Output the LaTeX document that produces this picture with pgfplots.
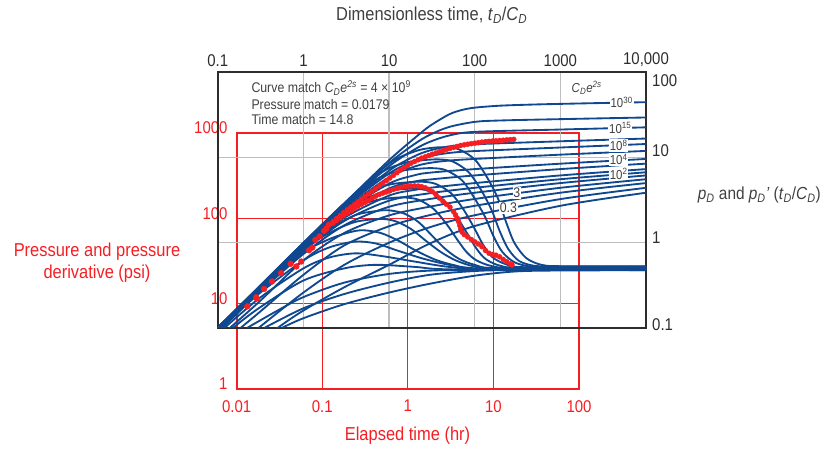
\documentclass[border=0pt]{standalone}
\usepackage{pgfplots}
\pgfplotsset{compat=1.18}
\usepackage{fontspec}
\setmainfont{Liberation Sans}[FakeStretch=0.88]
\definecolor{cblue}{RGB}{16,72,143}
\definecolor{cred}{RGB}{245,30,35}
\definecolor{cgrid}{RGB}{190,190,190}
\definecolor{ctext}{RGB}{64,64,64}
\definecolor{cframe}{RGB}{45,45,45}
\newcommand{\tickfont}{\fontsize{17}{20}\selectfont}
\newcommand{\labfont}{\fontsize{18.7}{21}\selectfont}
\newcommand{\rlabfont}{\fontsize{17.5}{20}\selectfont}
\newcommand{\smallfont}{\fontsize{14}{16}\selectfont}
\newcommand{\cfont}{\fontsize{13}{15}\selectfont}
\newcommand{\sub}[1]{\textsubscript{\itshape #1}}
\tikzset{bl/.style={cblue, solid, line width=1.85pt, smooth, mark=none}}
\tikzset{rd/.style={only marks, mark=*, mark size=2.5pt, cred, mark options={draw=none, fill=cred}}}
\begin{document}
\begin{tikzpicture}[x=1pt,y=1pt]
\useasboundingbox (0,0) rectangle (823,448);
% ---------------- red (field data) axis: grid and frame
\begin{axis}[at={(236.7pt,59pt)}, anchor=south west, scale only axis,
  width=342.3pt, height=256pt, xmode=log, ymode=log,
  xmin=0.01, xmax=100, ymin=1, ymax=1000,
  xtick={0.01,0.1,1,10,100}, xticklabels={0.01,0.1,1,10,100},
  ytick={1,10,100,1000}, yticklabels={1,10,100,1000},
  xminorticks=false, yminorticks=false,
  grid=major, major grid style={cred, line width=0.9pt},
  axis line style={cred, line width=1.8pt},
  major tick length=0pt,
  /pgf/number format/assume math mode=true,
  ticklabel style={text=cred, font=\tickfont, inner sep=0pt},
  xticklabel style={anchor=north, yshift=-11pt},
  yticklabel style={anchor=east, xshift=-9pt, yshift=5pt}]
\end{axis}
% ---------------- dimensionless type-curve axis
\begin{axis}[at={(217.8pt,120.1pt)}, anchor=south west, scale only axis,
  width=428.2pt, height=255.6pt, xmode=log, ymode=log,
  xmin=0.1, xmax=10000, ymin=0.1, ymax=100,
  xtick={0.1,1,10,100,1000,10000}, xticklabels={0.1,1,10,100,1000,{10,000}},
  xticklabel pos=right,
  ytick={0.1,1,10,100}, yticklabels={,,,},
  xminorticks=false, yminorticks=false,
  grid=major, major grid style={cgrid, line width=1.2pt},
  axis line style={cframe, line width=2.3pt},
  major tick length=0pt,
  /pgf/number format/assume math mode=true,
  ticklabel style={text=cframe, font=\tickfont, inner sep=0pt},
  xticklabel style={anchor=south, yshift=5.5pt}]
% pressure curves pD
\addplot[bl] coordinates {(0.1,0.1)(0.3,0.3)(1,0.99)(3,2.9)(10,9.3)(20,17)(30,23.5)(50,32)(70,36)(100,38.5)(200,40.6)(500,41.9)(1000,42.6)(3000,43.6)(10000,44.6)};
\addplot[bl] coordinates {(0.1,0.1)(1,0.98)(3,2.85)(10,8.6)(20,14.5)(30,18.5)(50,22.8)(100,26.2)(200,27.2)(1000,28.2)(10000,29.5)};
\addplot[bl] coordinates {(0.1,0.1)(1,0.97)(3,2.77)(10,7.9)(20,12.5)(30,15.3)(50,18.1)(100,20.0)(1000,21.3)(10000,22.6)};
\addplot[bl] coordinates {(0.1,0.1)(0.3,0.296)(1,0.96)(3,2.67)(10,7.0)(20,10.4)(30,12.1)(50,13.5)(100,14.3)(1000,15.5)(10000,16.7)};
\addplot[bl] coordinates {(0.1,0.1)(0.3,0.296)(1,0.95)(3,2.6)(10,6.5)(20,9.2)(30,10.4)(50,11.3)(100,11.9)(1000,13.1)(10000,14.4)};
\addplot[bl] coordinates {(0.1,0.1)(0.3,0.293)(1,0.935)(3,2.49)(10,5.87)(20,7.85)(30,8.65)(50,9.2)(100,9.62)(1000,10.8)(10000,11.95)};
\addplot[bl] coordinates {(0.1,0.099)(0.3,0.29)(1,0.907)(3,2.32)(10,4.94)(20,6.2)(30,6.64)(100,7.31)(1000,8.46)(10000,9.62)};
\addplot[bl] coordinates {(0.1,0.098)(0.3,0.287)(1,0.88)(3,2.17)(10,4.33)(20,5.23)(30,5.52)(100,6.16)(1000,7.31)(10000,8.47)};
\addplot[bl] coordinates {(0.1,0.097)(0.3,0.28)(1,0.837)(3,1.96)(10,3.57)(20,4.17)(30,4.41)(100,5.01)(1000,6.16)(10000,7.31)};
\addplot[bl] coordinates {(0.1,0.095)(0.3,0.272)(1,0.796)(3,1.8)(10,3.11)(30,3.81)(100,4.41)(1000,5.56)(10000,6.71)};
\addplot[bl] coordinates {(0.1,0.088)(0.3,0.257)(1,0.737)(3,1.6)(10,2.64)(30,3.26)(100,3.86)(1000,5.01)(10000,6.16)};
\addplot[bl] coordinates {(0.1,0.075)(0.3,0.2)(1,0.62)(3,1.3)(10,2.09)(30,2.65)(100,3.26)(1000,4.41)(10000,5.56)};
\addplot[bl] coordinates {(0.1,0.06)(0.3,0.15)(1,0.42)(3,0.93)(10,1.56)(30,2.11)(100,2.71)(1000,3.86)(10000,5.01)};
\addplot[bl] coordinates {(0.1,0.04)(0.3,0.1)(1,0.26)(3,0.55)(10,1.0)(30,1.52)(100,2.1)(1000,3.25)(10000,4.41)};
\addplot[bl] coordinates {(0.2,0.05)(0.5,0.1)(1,0.16)(3,0.3)(10,0.55)(30,0.98)(100,1.57)(1000,2.71)(10000,3.86)};
% derivative curves pD'
\addplot[bl] coordinates {(0.1,0.1)(1,1)(3,2.9)(10,8.5)(20,11.8)(30,12.9)(45,13.2)(65,12.5)(100,9.5)(140,5.8)(187,3.3)(230,1.8)(290,1.0)(400,0.66)(600,0.55)(1000,0.53)(10000,0.53)};
\addplot[bl] coordinates {(0.1,0.1)(1,0.99)(3,2.85)(8,6.6)(15,8.6)(25,9.3)(38,9.5)(55,9.0)(84,6.8)(118,4.2)(158,2.4)(194,1.4)(245,0.85)(330,0.61)(500,0.535)(900,0.525)(10000,0.525)};
\addplot[bl] coordinates {(0.1,0.1)(1,0.98)(3,2.75)(7,5.5)(13,6.9)(21,7.35)(32,7.5)(46,7.1)(71,5.4)(100,3.3)(134,1.95)(165,1.2)(210,0.78)(290,0.59)(450,0.525)(800,0.52)(10000,0.52)};
\addplot[bl] coordinates {(0.1,0.1)(1,0.96)(3,2.5)(6,4.0)(10,4.8)(16,5.1)(24,5.2)(35,4.9)(53,3.8)(75,2.4)(100,1.45)(125,0.95)(160,0.68)(230,0.56)(400,0.515)(10000,0.515)};
\addplot[bl] coordinates {(0.1,0.1)(1,0.95)(3,2.4)(5,3.2)(9,4.0)(14,4.25)(20,4.3)(29,4.05)(44,3.1)(62,2.0)(83,1.25)(105,0.85)(135,0.64)(200,0.535)(350,0.51)(10000,0.51)};
\addplot[bl] coordinates {(0.1,0.1)(1,0.93)(2,1.7)(4,2.6)(7,3.15)(11,3.35)(15,3.4)(22,3.2)(33,2.5)(47,1.65)(62,1.1)(80,0.78)(105,0.62)(160,0.53)(300,0.505)(10000,0.505)};
\addplot[bl] coordinates {(0.1,0.1)(0.3,0.29)(1,0.88)(2,1.45)(4,2.1)(7,2.35)(10,2.4)(15,2.2)(22,1.75)(32,1.2)(45,0.85)(65,0.65)(100,0.55)(200,0.5)(10000,0.5)};
\addplot[bl] coordinates {(0.1,0.098)(0.3,0.28)(1,0.83)(2,1.3)(4,1.75)(8,1.9)(12,1.78)(18,1.45)(27,1.05)(40,0.78)(60,0.62)(100,0.525)(200,0.495)(10000,0.495)};
\addplot[bl] coordinates {(0.1,0.097)(0.3,0.27)(1,0.76)(2,1.1)(3.5,1.33)(5,1.4)(8,1.3)(13,1.05)(20,0.82)(35,0.63)(60,0.54)(120,0.49)(10000,0.49)};
\addplot[bl] coordinates {(0.1,0.093)(0.3,0.25)(1,0.62)(2,0.88)(4,1.03)(7,0.98)(12,0.82)(25,0.65)(50,0.55)(100,0.5)(300,0.487)(10000,0.487)};
\addplot[bl] coordinates {(0.1,0.085)(0.3,0.22)(1,0.5)(2,0.67)(4,0.75)(8,0.7)(20,0.6)(50,0.52)(150,0.485)(10000,0.485)};
\addplot[bl] coordinates {(0.15,0.1)(0.3,0.17)(1,0.36)(3,0.5)(7,0.55)(20,0.52)(60,0.485)(10000,0.48)};
\addplot[bl] coordinates {(0.22,0.1)(0.5,0.16)(1,0.23)(3,0.34)(10,0.43)(30,0.47)(100,0.478)(10000,0.478)};
\addplot[bl] coordinates {(0.35,0.1)(1,0.17)(3,0.25)(10,0.34)(30,0.42)(100,0.465)(300,0.477)(10000,0.477)};
\addplot[bl] coordinates {(0.56,0.1)(1,0.13)(3,0.19)(10,0.26)(30,0.33)(100,0.41)(300,0.46)(1000,0.472)(10000,0.475)};
% curve labels
\begin{scope}[every node/.style={fill=white, inner sep=0.8pt, text=ctext, font=\cfont}]
\node at (axis cs:5200,44.2) {10\textsuperscript{30}};
\node at (axis cs:5000,22.2) {10\textsuperscript{15}};
\node at (axis cs:4800,13.9) {10\textsuperscript{8}};
\node at (axis cs:4800,9.5) {10\textsuperscript{4}};
\node at (axis cs:4800,6.45) {10\textsuperscript{2}};
\node[font=\smallfont] at (axis cs:310,3.82) {3};
\node[font=\smallfont] at (axis cs:247,2.56) {0.3};
\end{scope}
\node[text=ctext, font=\cfont] at (axis cs:2030,65.5) {\textit{C}\sub{D}\textit{e}\textsuperscript{\itshape 2s}};
\end{axis}
% ---------------- red data on the field axis
\begin{axis}[at={(236.7pt,59pt)}, anchor=south west, scale only axis,
  width=342.3pt, height=256pt, xmode=log, ymode=log,
  xmin=0.01, xmax=100, ymin=1, ymax=1000, hide axis]
% pressure data (hr, psi)
\addplot[rd, mark size=2.9pt] coordinates {
(0.0133,9.3)(0.0169,11.9)(0.0209,14.9)(0.0258,18.2)(0.0331,22.8)(0.0427,29.3)(0.070,42.2)(0.0829,56.0)(0.105,71.3)(0.119,84.2)};
\addplot[rd] coordinates {
(0.134,91.8)(0.147,99.4)(0.162,107.5)(0.178,116.4)(0.196,126)(0.216,135.3)(0.238,145.3)(0.261,156.1)(0.287,167.7)(0.316,180.1)
(0.348,193.4)(0.383,207.8)(0.421,223.2)(0.463,239.7)(0.509,257.5)(0.56,276.6)(0.616,297.1)(0.678,319.1)(0.746,342.7)(0.82,368.1)
(0.902,391.6)(0.993,416.6)(1.09,443)(1.2,463.7)(1.32,485.4)(1.45,508)(1.6,526)(1.76,545)(1.93,564.6)(2.13,583)
(2.34,602)(2.57,622)(2.83,642.5)(3.11,660)(3.42,678)(3.77,696)(4.14,715)(4.56,727)(5.01,739)(5.51,750)
(6.07,761)(6.67,771)(7.34,782)(8.07,792)(8.88,798)(9.77,804)(10.7,810)(11.8,817)(13.0,823)(14.3,829)(15.7,836)(17.3,842)};
% derivative data (hr, psi)
\addplot[rd, mark size=2.9pt] coordinates {
(0.0172,11.5)(0.0498,27.3)(0.0569,31.2)(0.0765,45.4)(0.093,61.5)(0.112,76)};
\addplot[rd] coordinates {
(0.134,88)(0.147,94)(0.162,101)(0.178,107.5)(0.196,115)(0.216,122.5)(0.238,131)(0.261,139)(0.287,146.5)(0.316,154)
(0.348,162)(0.383,172.5)(0.421,182)(0.463,190.5)(0.509,197.5)(0.56,203.5)(0.616,210)(0.678,218)(0.746,224)(0.82,230)
(0.902,234.5)(0.993,237.5)(1.09,239.5)(1.2,240)(1.32,239)(1.45,235)(1.6,228)(1.76,218)(1.93,205)(2.13,190)
(2.34,173)(2.57,159)(2.83,146)(3.11,135.5)(3.42,120)(3.6,110)(3.77,101)(3.9,92)(4.03,83)(4.14,76)
(4.3,69)(4.56,64.5)(5.01,60.5)(5.51,56.5)(6.07,53)(6.67,50)(7.34,46.5)(8.07,42)(8.88,39)(9.77,37.8)
(10.7,37)(11.8,35.4)(13.0,33)(14.3,31)(15.7,29.2)(16.5,28.5)};
\end{axis}
% ---------------- texts
\node[text=ctext, font=\labfont] at (431.7,433) {Dimensionless time, \textit{t}\sub{D}/\textit{C}\sub{D}};
\node[text=cred, font=\labfont] at (407.5,12) {Elapsed time (hr)};
\node[text=cred, font=\labfont, align=center, inner sep=0pt] at (97,185.5) {Pressure and pressure\\[1pt]derivative (psi)};
\node[text=ctext, font=\rlabfont, anchor=east, inner sep=0pt] at (821,253) {\textit{p}\sub{D} and \textit{p}\sub{D}\textit{'} (\textit{t}\sub{D}/\textit{C}\sub{D})};
\begin{scope}[every node/.style={text=cframe, font=\tickfont, anchor=west, inner sep=0pt}]
\node at (652,367.3) {100};
\node at (652,297.3) {10};
\node at (652,210) {1};
\node at (652,123) {0.1};
\end{scope}
\begin{scope}[every node/.style={text=ctext, font=\smallfont, anchor=west, inner sep=0pt}]
\node at (251.3,360) {Curve match \textit{C}\sub{D}\textit{e}\textsuperscript{\itshape 2s} = 4 × 10\textsuperscript{9}};
\node at (251.3,343.3) {Pressure match = 0.0179};
\node at (251.3,328.3) {Time match = 14.8};
\end{scope}
\end{tikzpicture}
\end{document}
